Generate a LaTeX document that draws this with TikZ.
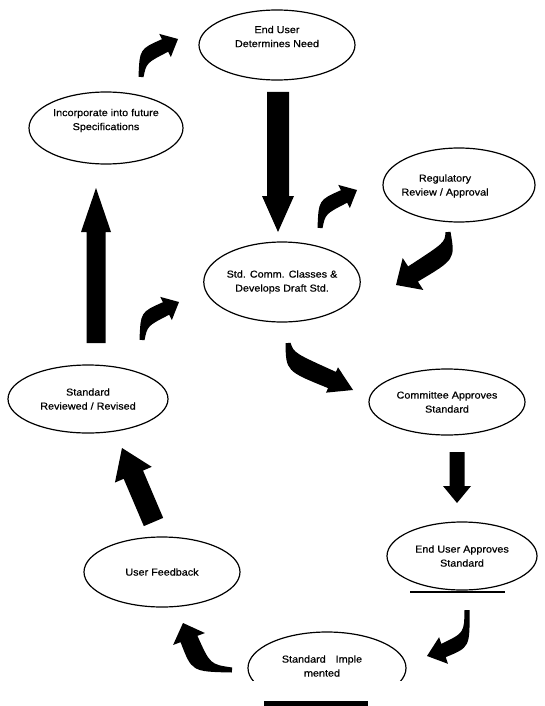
\documentclass[tikz,border=0pt]{standalone}
\usepackage{fontspec}
\setmainfont{Liberation Sans}[FakeStretch=1.08,FakeBold=0.6]
\usetikzlibrary{shapes.geometric,calc}
\newcommand\blockarr[5]{%
  \path ($(#2)!#5!(#1)$) coordinate (hb);
  \fill ($(#1)!#3!90:(#2)$) -- ($(hb)!#3!90:(#2)$) -- ($(hb)!#4!90:(#2)$) -- (#2)
    -- ($(hb)!#4!-90:(#2)$) -- ($(hb)!#3!-90:(#2)$) -- ($(#1)!#3!-90:(#2)$) -- cycle;}
\newcommand\curvarr[6]{%
  \fill ($(#1)!2.5pt!90:(#2)$) .. controls ($(#2)!{#5*1.1}!90:(#4)$) .. ($(#3)!#5!90:(#4)$)
    -- ($(#3)!#6!90:(#4)$) -- (#4) -- ($(#3)!#6!-90:(#4)$) -- ($(#3)!#5!-90:(#4)$)
    .. controls ($(#2)!{#5*1.1}!-90:(#4)$) .. ($(#1)!2.5pt!-90:(#2)$) -- cycle;}
\begin{document}
\begin{tikzpicture}[x=1pt,y=-1pt,
  ell/.style={ellipse, draw, line width=1.2pt, inner sep=0pt, align=center,
    font=\fontsize{10}{14}\selectfont},
  txt/.style={inner sep=0pt, align=center, font=\fontsize{10}{14}\selectfont}]
\useasboundingbox (0,0) rectangle (544,706);
% ellipses
\node[ell, minimum width=156pt, minimum height=70pt] (eu) at (277,45) {End User\\Determines Need\\[3pt]};
\node[ell, minimum width=154pt, minimum height=72pt] (inc) at (106,128) {Incorporate into future\\Specifications\\[3pt]};
\node[ell, minimum width=152pt, minimum height=74pt] (reg) at (459,185) {};
\node[txt] (regt) at (445,186) {Regulatory\\Review / Approval};
\node[ell, minimum width=156pt, minimum height=80pt] (sc) at (282,282) {Std. Comm. Classes \&\\Develops Draft Std.};
\node[ell, minimum width=160pt, minimum height=68pt] (sr) at (88,399) {Standard\\Reviewed / Revised};
\node[ell, minimum width=156pt, minimum height=66pt] (ca) at (447,402) {Committee Approves\\Standard};
\node[ell, minimum width=150pt, minimum height=68pt] (ea) at (462,556) {End User Approves\\Standard};
\node[ell, minimum width=156pt, minimum height=70pt] (uf) at (162,572) {User Feedback};
\begin{scope}
  \clip (0,0) rectangle (544,680);
  \node[ell, minimum width=158pt, minimum height=72pt] (si) at (327,668) {};
\end{scope}
\node[txt] (sit) at (322,666) {Standard\quad Imple\\mented};
% bars
\coordinate (ul1) at (410,592); \coordinate (ul2) at (505,592);
\draw[line width=2pt] (ul1) -- (ul2);
\coordinate (bb1) at (264,701); \coordinate (bb2) at (368,706);
\fill (bb1) rectangle (bb2);
% straight block arrows
\coordinate (a1s) at (278,92);  \coordinate (a1t) at (278,232);
\blockarr{a1s}{a1t}{11pt}{16pt}{36pt}
\coordinate (a2s) at (96,343);  \coordinate (a2t) at (96,188);
\blockarr{a2s}{a2t}{9.5pt}{15pt}{44pt}
\coordinate (a3s) at (457,452); \coordinate (a3t) at (457,503);
\blockarr{a3s}{a3t}{7.5pt}{14pt}{17pt}
\coordinate (a4s) at (153.5,522); \coordinate (a4t) at (122,448);
\blockarr{a4s}{a4t}{10.5pt}{20pt}{29pt}
% curved arrows
\coordinate (eS) at (141,77);  \coordinate (eC) at (143,56);  \coordinate (eB) at (165,45.5); \coordinate (eT) at (178,39);
\curvarr{eS}{eC}{eB}{eT}{7pt}{13pt}
\coordinate (fS) at (320,228); \coordinate (fC) at (322,207); \coordinate (fB) at (344,196.5); \coordinate (fT) at (357,190);
\curvarr{fS}{fC}{fB}{fT}{7pt}{13pt}
\coordinate (gS) at (448,232); \coordinate (gC) at (450,251); \coordinate (gB) at (413,274); \coordinate (gT) at (396,285);
\curvarr{gS}{gC}{gB}{gT}{9pt}{19pt}
\coordinate (hS) at (142,340); \coordinate (hC) at (144,319); \coordinate (hB) at (166,308.5); \coordinate (hT) at (179,302);
\curvarr{hS}{hC}{hB}{hT}{7pt}{13pt}
\coordinate (iS) at (288,343); \coordinate (iC) at (290,362); \coordinate (iB) at (332,380); \coordinate (iT) at (353,390);
\curvarr{iS}{iC}{iB}{iT}{9pt}{14pt}
\coordinate (jS) at (467,610); \coordinate (jC) at (467,640); \coordinate (jB) at (443.5,650.5); \coordinate (jT) at (427,656);
\curvarr{jS}{jC}{jB}{jT}{7pt}{14pt}
\coordinate (kS) at (232,670); \coordinate (kC) at (201,668); \coordinate (kB) at (189,639); \coordinate (kT) at (183,623);
\curvarr{kS}{kC}{kB}{kT}{9pt}{17pt}
\end{tikzpicture}
\end{document}
